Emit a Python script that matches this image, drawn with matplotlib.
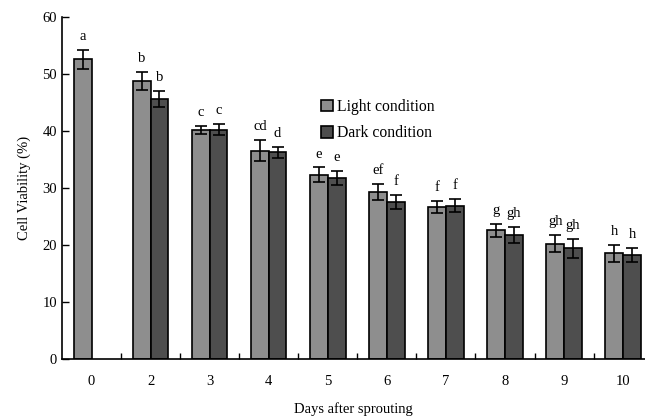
import matplotlib
matplotlib.use("Agg")
import matplotlib.pyplot as plt
import numpy as np

days = ["0", "2", "3", "4", "5", "6", "7", "8", "9", "10"]
light_vals = [52.5, 48.7, 40.2, 36.5, 32.3, 29.2, 26.6, 22.5, 20.2, 18.5]
light_err = [1.6, 1.6, 0.7, 1.8, 1.25, 1.4, 1.1, 1.2, 1.55, 1.45]
dark_vals = [None, 45.6, 40.2, 36.2, 31.7, 27.5, 26.8, 21.7, 19.4, 18.2]
dark_err = [None, 1.4, 1.0, 1.0, 1.25, 1.25, 1.15, 1.4, 1.65, 1.2]
light_letters = ["a", "b", "c", "cd", "e", "ef", "f", "g", "gh", "h"]
dark_letters = [None, "b", "c", "d", "e", "f", "f", "gh", "gh", "h"]

plt.rcParams['font.family'] = ['Liberation Serif', 'DejaVu Serif']

fig = plt.figure(figsize=(6.45, 4.2), dpi=100)
ax = fig.add_axes([62/645, 1-358.7/420, 1-62/645, (358.7-16.7)/420])

x = np.arange(len(days))
w = 0.3
lc = "#8e8e8e"
dc = "#4e4e4e"

# light bars
lx = x - w/2
ax.bar(lx, light_vals, w, color=lc, edgecolor="black", linewidth=1.2,
       yerr=light_err, capsize=4, error_kw=dict(elinewidth=1.2, capthick=1.2, ecolor="black"),
       label="Light condition", zorder=2)
# dark bars
di = [i for i, v in enumerate(dark_vals) if v is not None]
dx = x[di] + w/2
dv = [dark_vals[i] for i in di]
de = [dark_err[i] for i in di]
ax.bar(dx, dv, w, color=dc, edgecolor="black", linewidth=1.2,
       yerr=de, capsize=4, error_kw=dict(elinewidth=1.2, capthick=1.2, ecolor="black"),
       label="Dark condition", zorder=2)

for i in range(len(days)):
    ax.annotate(light_letters[i], (lx[i], light_vals[i] + light_err[i]),
                xytext=(0, 5), textcoords="offset points", ha="center", va="bottom", fontsize=10.5)
for j, i in enumerate(di):
    ax.annotate(dark_letters[i], (dx[j], dv[j] + de[j]),
                xytext=(0, 5), textcoords="offset points", ha="center", va="bottom", fontsize=10.5)

ax.set_ylim(0, 60)
ax.set_xlim(-0.5, 9.37)
ax.set_yticks(np.arange(0, 61, 10))
ax.tick_params(axis="y", direction="in", length=5, width=1, labelsize=10.5)
ax.set_xticks(x)
ax.set_xticklabels(days, fontsize=10.5)
ax.tick_params(axis="x", which="major", length=0, pad=12)
ax.set_xticks(x[:-1] + 0.5, minor=True)
ax.tick_params(axis="x", which="minor", direction="in", length=4, width=1)

for s in ["top", "right"]:
    ax.spines[s].set_visible(False)
for s in ["left", "bottom"]:
    ax.spines[s].set_linewidth(1.2)

ax.set_ylabel("Cell Viability (%)", fontsize=10.5, labelpad=8)
ax.set_xlabel("Days after sprouting", fontsize=10.5, labelpad=10)

leg = ax.legend(loc="upper left", bbox_to_anchor=(0.42, 0.80), frameon=False,
                fontsize=11.3, handlelength=0.75, handleheight=0.75, handletextpad=0.3,
                labelspacing=0.65)

fig.savefig("out.png", dpi=100)
